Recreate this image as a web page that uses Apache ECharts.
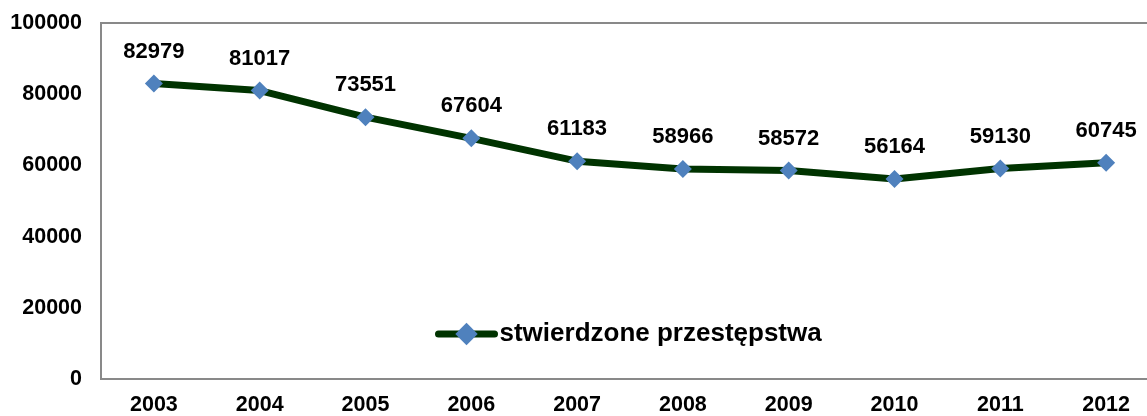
<!DOCTYPE html>
<html><head><meta charset="utf-8">
<script src="https://cdn.jsdelivr.net/npm/echarts@6/dist/echarts.min.js"></script>
<style>html,body{margin:0;padding:0;background:#fff}#c{width:1147px;height:416px}</style>
</head><body><div id="c"></div>
<script>
const years = ['2003','2004','2005','2006','2007','2008','2009','2010','2011','2012'];
const crimes = [82979,81017,73551,67604,61183,58966,58572,56164,59130,60745];
const seriesName = 'stwierdzone przestępstwa';
const yTicks = {min:0, max:100000, interval:20000};

const chart = echarts.init(document.getElementById('c'));
const font = 'Liberation Sans, Arial, sans-serif';
chart.setOption({
  animation:false,
  grid:{left:101, top:23, bottom:37, width:1058, outerBoundsMode:'none', show:true, borderColor:'#898989', borderWidth:2, containLabel:false},
  legend:{
    data:[{name:seriesName}],
    left:430, top:316, itemWidth:56, itemHeight:28, itemGap:3,
    lineStyle:{color:'#003300', width:7, cap:'round'},
    itemStyle:{color:'#4f81bd'},
    textStyle:{fontFamily:font, fontWeight:'bold', fontSize:26, color:'#000'}
  },
  xAxis:{type:'category', data:years, boundaryGap:true,
    axisLine:{lineStyle:{color:'#898989', width:2}}, axisTick:{show:false},
    axisLabel:{fontFamily:font, fontWeight:'bold', fontSize:21.5, color:'#000', margin:15}},
  yAxis:{type:'value', min:yTicks.min, max:yTicks.max, interval:yTicks.interval,
    splitLine:{show:false}, axisLine:{show:true, lineStyle:{color:'#898989', width:2}}, axisTick:{show:false},
    axisLabel:{fontFamily:font, fontWeight:'bold', fontSize:21.5, color:'#000', margin:19, formatter:v=>String(v)}},
  series:[{
    name:seriesName, type:'line', data:crimes,
    symbol:'diamond', symbolSize:18,
    lineStyle:{color:'#003300', width:7},
    itemStyle:{color:'#4f81bd'},
    label:{show:true, position:'top', distance:12, fontFamily:font, fontWeight:'bold', fontSize:22, color:'#000', formatter:p=>String(p.value)}
  }]
});
</script></body></html>
